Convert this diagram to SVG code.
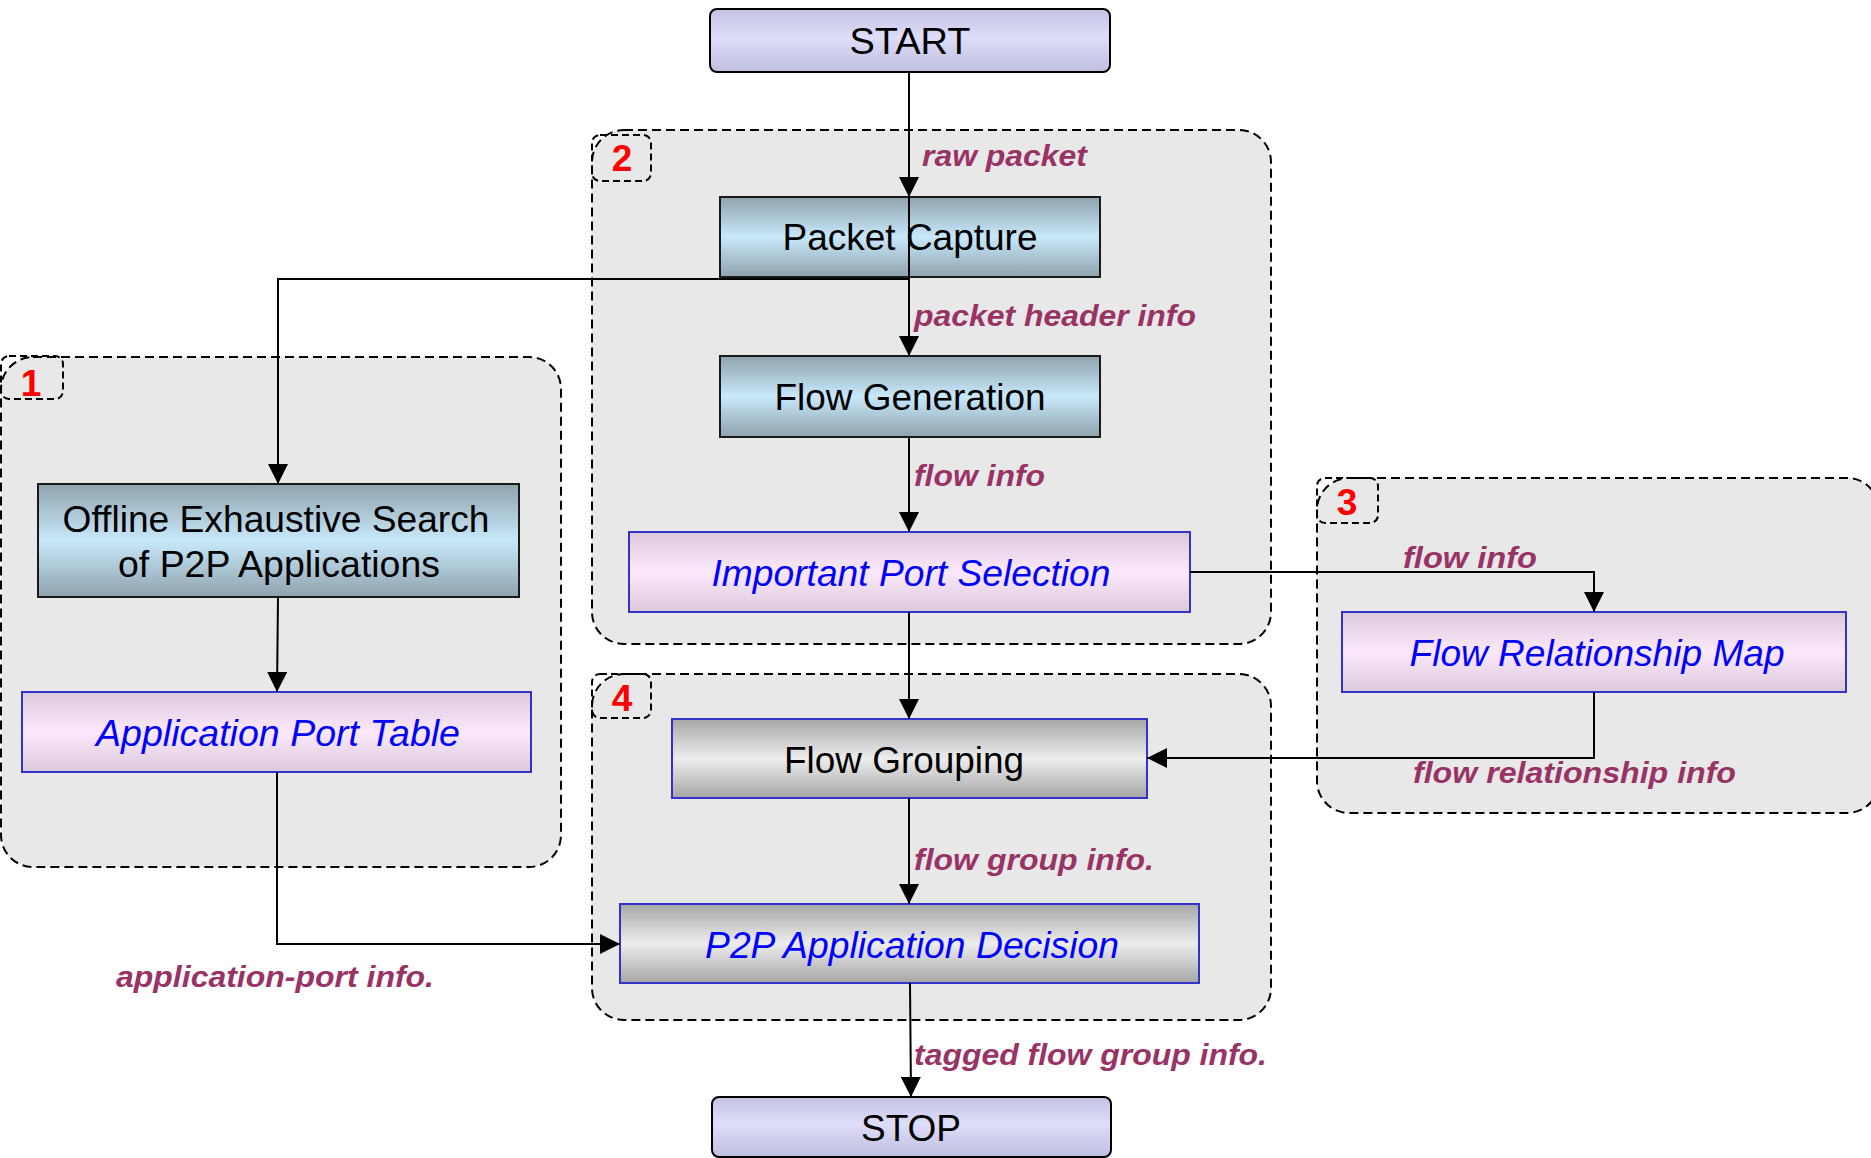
<svg xmlns="http://www.w3.org/2000/svg" width="1871" height="1158" viewBox="0 0 1871 1158">
  <style>
    .grp { fill: #e8e8e8; stroke: #000; stroke-width: 2; stroke-dasharray: 9 5; }
    .tag { fill: none; stroke: #000; stroke-width: 2; stroke-dasharray: 7 4; }
    .num { font-family: "Liberation Sans", Arial, sans-serif; font-weight: bold; font-size: 37px; fill: #ff0000; text-anchor: middle; }
    .term { fill: url(#gTerm); stroke: #000; stroke-width: 2; }
    .proc { fill: url(#gProc); stroke: #1a1a1a; stroke-width: 2; }
    .data { fill: url(#gData); stroke: #3333cc; stroke-width: 2; }
    .dec { fill: url(#gDec); stroke: #3333cc; stroke-width: 2; }
    .t { font-family: "Liberation Sans", Arial, sans-serif; font-size: 36px; fill: #000; text-anchor: middle; }
    .ti { font-family: "Liberation Sans", Arial, sans-serif; font-size: 36px; font-style: italic; fill: #0000ff; text-anchor: middle; }
    .lbl { font-family: "Liberation Sans", Arial, sans-serif; font-size: 29px; font-style: italic; font-weight: bold; fill: #993366; }
    .wire { fill: none; stroke: #000; stroke-width: 2; }
  </style>
  <defs>
    <linearGradient id="gTerm" x1="0" y1="0" x2="0" y2="1">
      <stop offset="0" stop-color="#c2c2e2"/>
      <stop offset="0.45" stop-color="#dedefa"/>
      <stop offset="1" stop-color="#bebede"/>
    </linearGradient>
    <linearGradient id="gProc" x1="0" y1="0" x2="0" y2="1">
      <stop offset="0" stop-color="#8fa3ae"/>
      <stop offset="0.5" stop-color="#c8e8fa"/>
      <stop offset="1" stop-color="#8fa3ae"/>
    </linearGradient>
    <linearGradient id="gData" x1="0" y1="0" x2="0" y2="1">
      <stop offset="0" stop-color="#dccadc"/>
      <stop offset="0.5" stop-color="#fbe9fb"/>
      <stop offset="1" stop-color="#dccadc"/>
    </linearGradient>
    <linearGradient id="gDec" x1="0" y1="0" x2="0" y2="1">
      <stop offset="0" stop-color="#a6a6a6"/>
      <stop offset="0.5" stop-color="#ededed"/>
      <stop offset="1" stop-color="#a6a6a6"/>
    </linearGradient>
    <marker id="arr" viewBox="0 0 20 20" refX="20" refY="10" markerWidth="20" markerHeight="20" markerUnits="userSpaceOnUse" orient="auto">
      <path d="M0,0 L20,10 L0,20 Z" fill="#000"/>
    </marker>
  </defs>

  <!-- dashed stage regions -->
  <g id="stage1">
    <rect class="grp" x="1" y="357" width="560" height="510" rx="32"/>
    <rect class="tag" x="1" y="356" width="62" height="43" rx="8"/>
    <text class="num" x="31" y="396">1</text>
  </g>
  <g id="stage2">
    <rect class="grp" x="592" y="130" width="679" height="514" rx="32"/>
    <rect class="tag" x="592" y="135" width="59" height="46" rx="8"/>
    <text class="num" x="622" y="171">2</text>
  </g>
  <g id="stage3">
    <rect class="grp" x="1317" y="478" width="562" height="335" rx="32"/>
    <rect class="tag" x="1317" y="478" width="61" height="45" rx="8"/>
    <text class="num" x="1347" y="515">3</text>
  </g>
  <g id="stage4">
    <rect class="grp" x="592" y="674" width="679" height="346" rx="32"/>
    <rect class="tag" x="592" y="674" width="59" height="44" rx="8"/>
    <text class="num" x="622" y="711">4</text>
  </g>

  <!-- nodes -->
  <g id="start">
    <rect class="term" x="710" y="9" width="400" height="63" rx="7"/>
    <text class="t" x="910" y="54" textLength="121" lengthAdjust="spacingAndGlyphs">START</text>
  </g>
  <g id="packet-capture">
    <rect class="proc" x="720" y="197" width="380" height="80"/>
    <text class="t" x="910" y="250" textLength="255" lengthAdjust="spacingAndGlyphs">Packet Capture</text>
  </g>
  <g id="flow-generation">
    <rect class="proc" x="720" y="356" width="380" height="81"/>
    <text class="t" x="910" y="410" textLength="271" lengthAdjust="spacingAndGlyphs">Flow Generation</text>
  </g>
  <g id="important-port-selection">
    <rect class="data" x="629" y="532" width="561" height="80"/>
    <text class="ti" x="911" y="586" textLength="399" lengthAdjust="spacingAndGlyphs">Important Port Selection</text>
  </g>
  <g id="offline-search">
    <rect class="proc" x="38" y="484" width="481" height="113"/>
    <text class="t" x="276" y="532" textLength="427" lengthAdjust="spacingAndGlyphs">Offline Exhaustive Search</text>
    <text class="t" x="279" y="577" textLength="322" lengthAdjust="spacingAndGlyphs">of P2P Applications</text>
  </g>
  <g id="application-port-table">
    <rect class="data" x="22" y="692" width="509" height="80"/>
    <text class="ti" x="278" y="746" textLength="364" lengthAdjust="spacingAndGlyphs">Application Port Table</text>
  </g>
  <g id="flow-relationship-map">
    <rect class="data" x="1342" y="612" width="504" height="80"/>
    <text class="ti" x="1597" y="666" textLength="375" lengthAdjust="spacingAndGlyphs">Flow Relationship Map</text>
  </g>
  <g id="flow-grouping">
    <rect class="dec" x="672" y="719" width="475" height="79"/>
    <text class="t" x="904" y="773" textLength="240" lengthAdjust="spacingAndGlyphs">Flow Grouping</text>
  </g>
  <g id="p2p-decision">
    <rect class="dec" x="620" y="904" width="579" height="79"/>
    <text class="ti" x="912" y="958" textLength="414" lengthAdjust="spacingAndGlyphs">P2P Application Decision</text>
  </g>
  <g id="stop">
    <rect class="term" x="712" y="1097" width="399" height="60" rx="7"/>
    <text class="t" x="911" y="1141" textLength="100" lengthAdjust="spacingAndGlyphs">STOP</text>
  </g>

  <!-- connectors -->
  <g id="connectors">
    <path class="wire" d="M909,72 L909,197" marker-end="url(#arr)"/>
    <path class="wire" d="M909,197 L909,356" marker-end="url(#arr)"/>
    <path class="wire" d="M909,279 L278,279 L278,484" marker-end="url(#arr)"/>
    <path class="wire" d="M909,437 L909,532" marker-end="url(#arr)"/>
    <path class="wire" d="M909,612 L909,719" marker-end="url(#arr)"/>
    <path class="wire" d="M1190,572 L1594,572 L1594,612" marker-end="url(#arr)"/>
    <path class="wire" d="M1594,692 L1594,758 L1147,758" marker-end="url(#arr)"/>
    <path class="wire" d="M278,597 L277,692" marker-end="url(#arr)"/>
    <path class="wire" d="M277,772 L277,944 L620,944" marker-end="url(#arr)"/>
    <path class="wire" d="M909,798 L909,904" marker-end="url(#arr)"/>
    <path class="wire" d="M910,983 L911,1097" marker-end="url(#arr)"/>
  </g>

  <!-- connector labels -->
  <g id="labels">
    <text class="lbl" x="922" y="166" textLength="165" lengthAdjust="spacingAndGlyphs">raw packet</text>
    <text class="lbl" x="914" y="326" textLength="282" lengthAdjust="spacingAndGlyphs">packet header info</text>
    <text class="lbl" x="914" y="486" textLength="131" lengthAdjust="spacingAndGlyphs">flow info</text>
    <text class="lbl" x="1403" y="568" textLength="134" lengthAdjust="spacingAndGlyphs">flow info</text>
    <text class="lbl" x="1413" y="783" textLength="323" lengthAdjust="spacingAndGlyphs">flow relationship info</text>
    <text class="lbl" x="914" y="870" textLength="240" lengthAdjust="spacingAndGlyphs">flow group info.</text>
    <text class="lbl" x="116" y="987" textLength="318" lengthAdjust="spacingAndGlyphs">application-port info.</text>
    <text class="lbl" x="914" y="1065" textLength="353" lengthAdjust="spacingAndGlyphs">tagged flow group info.</text>
  </g>
</svg>
